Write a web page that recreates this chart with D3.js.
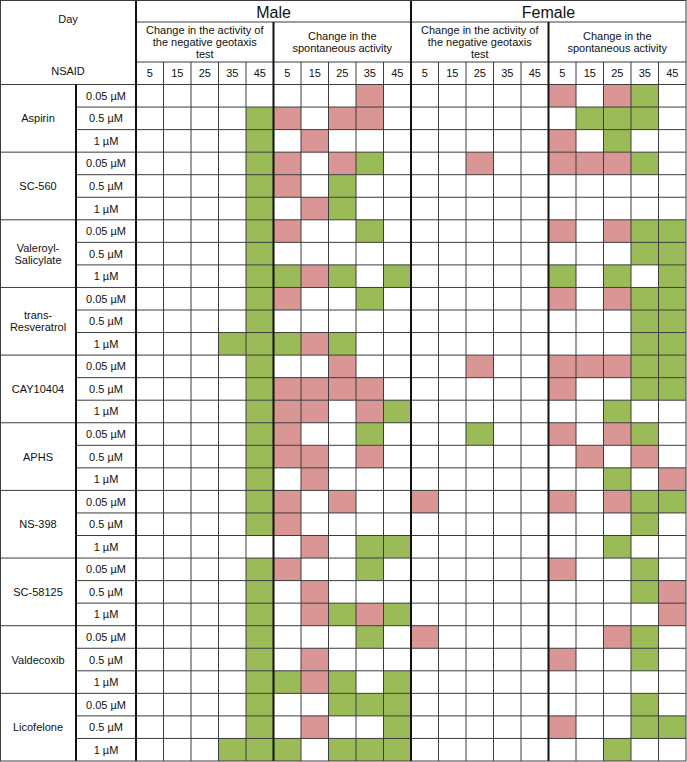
<!DOCTYPE html>
<html>
<head>
<meta charset="utf-8">
<script src="https://cdn.jsdelivr.net/npm/d3@7"></script>
<style>
  html, body { margin: 0; padding: 0; background: #fff; }
  svg { display: block; font-family: "Liberation Sans", Arial, sans-serif; }
</style>
</head>
<body>
<svg id="vis"></svg>
<script>
// ---- data ----
const nsaids = [
  ['Aspirin'], ['SC-560'], ['Valeroyl-', 'Salicylate'], ['trans-', 'Resveratrol'],
  ['CAY10404'], ['APHS'], ['NS-398'], ['SC-58125'], ['Valdecoxib'], ['Licofelone']
];
const concentrations = ['0.05 µM', '0.5 µM', '1 µM'];
const days = [5, 15, 25, 35, 45];
const sexes = ['Male', 'Female'];
const tests = [
  ['Change in the activity of', 'the negative geotaxis', 'test'],
  ['Change in the', 'spontaneous activity']
];
// one string per NSAID/concentration row, one char per day: '-' decrease, '+' increase, '.' no change
const maleGeotaxis = [
  '.....', '....+', '....+',
  '....+', '....+', '....+',
  '....+', '....+', '....+',
  '....+', '....+', '...++',
  '....+', '....+', '....+',
  '....+', '....+', '....+',
  '....+', '....+', '.....',
  '....+', '....+', '....+',
  '....+', '....+', '....+',
  '....+', '....+', '...++'
];
const maleSpontaneous = [
  '...-.', '-.--.', '.-...',
  '-.-+.', '-.+..', '.-+..',
  '-..+.', '.....', '+-+.+',
  '-..+.', '.....', '+-+..',
  '..-..', '----.', '--.-+',
  '-..+.', '--.-.', '.-...',
  '-.-..', '-....', '.-.++',
  '-..+.', '.-...', '.-+-+',
  '...+.', '.-...', '+-+.+',
  '..+++', '.-..+', '+.+++'
];
const femaleGeotaxis = [
  '.....', '.....', '.....',
  '..-..', '.....', '.....',
  '.....', '.....', '.....',
  '.....', '.....', '.....',
  '..-..', '.....', '.....',
  '..+..', '.....', '.....',
  '-....', '.....', '.....',
  '.....', '.....', '.....',
  '-....', '.....', '.....',
  '.....', '.....', '.....'
];
const femaleSpontaneous = [
  '-.-+.', '.+++.', '-.+..',
  '---+.', '.....', '.....',
  '-.-++', '...++', '+.+.+',
  '-.-++', '...++', '...++',
  '---++', '-..++', '..+..',
  '-.-+.', '.-.-.', '..+.-',
  '-.-++', '...+.', '..+..',
  '-..+.', '...+-', '....-',
  '..-+.', '-..+.', '.....',
  '...+.', '-..++', '..+..'
];

// ---- layout ----
const width = 687;
const height = 762;
const nameX = [0, 76];
const concX = [76, 136];
const rowTitle = [0, 22];
const rowTest = [22, 62];
const rowDay = [62, 84.5];
const gridBottom = 761;
const lineColor = '#3c3c3c';
const colorScale = d3.scaleOrdinal().domain(['-', '+']).range(['#d99694', '#9bbb59']);

const blocks = [
  {sex: 'Male', test: 0, values: maleGeotaxis},
  {sex: 'Male', test: 1, values: maleSpontaneous},
  {sex: 'Female', test: 0, values: femaleGeotaxis},
  {sex: 'Female', test: 1, values: femaleSpontaneous}
];
const cols = [];
blocks.forEach((b, bi) => days.forEach((d, di) => cols.push({key: `${bi}-${d}`, block: bi, dayIdx: di, day: d})));
const rows = [];
nsaids.forEach((n, ni) => concentrations.forEach((c, ci) => rows.push({key: `${ni}-${ci}`, nsaid: ni, conc: c, ci})));

const x = d3.scaleBand().domain(cols.map(c => c.key)).range([136, 686]);
const y = d3.scaleBand().domain(rows.map(r => r.key)).range([rowDay[1], gridBottom]);
const bw = x.bandwidth();

const svg = d3.select('#vis').attr('width', width).attr('height', height);
svg.append('rect').attr('width', width).attr('height', height).attr('fill', '#fff');

// ---- cells ----
const cells = [];
rows.forEach((r, ri) => cols.forEach(c => {
  const v = blocks[c.block].values[ri][c.dayIdx];
  if (v !== '.') cells.push({row: r.key, col: c.key, v});
}));
svg.append('g').selectAll('rect').data(cells).join('rect')
  .attr('x', d => x(d.col))
  .attr('y', d => y(d.row))
  .attr('width', bw)
  .attr('height', y.bandwidth())
  .attr('fill', d => colorScale(d.v));

// ---- grid lines ----
const lines = svg.append('g').attr('fill', 'none');
function hline(x1, x2, yy, w) {
  lines.append('line').attr('x1', x1).attr('x2', x2).attr('y1', yy).attr('y2', yy)
    .attr('stroke', lineColor).attr('stroke-width', w || 1);
}
function vline(xx, y1, y2, w, col) {
  lines.append('line').attr('x1', xx).attr('x2', xx).attr('y1', y1).attr('y2', y2)
    .attr('stroke', col || lineColor).attr('stroke-width', w || 1);
}
// horizontal
hline(136, 686, rowTitle[1]);
hline(136, 686, rowTest[1]);
hline(0, 686, rowDay[1]);
rows.forEach((r, ri) => {
  if (ri === 0) return;
  const yy = y(r.key);
  hline(r.ci === 0 ? 0 : nameX[1], 686, yy);
});
// thin vertical between days
cols.forEach(c => {
  if (c.dayIdx === 0) return;
  vline(x(c.key), rowDay[0], gridBottom);
});
// thick vertical
vline(nameX[1], rowDay[1], gridBottom, 2, '#111');
vline(concX[1], 0, gridBottom, 2, '#111');
blocks.forEach((b, bi) => {
  if (bi === 0) return;
  const xx = x(`${bi}-${days[0]}`);
  vline(xx, bi === 2 ? 0 : rowTitle[1], gridBottom, 2, '#111');
});
// outer border
lines.append('rect').attr('x', 0.5).attr('y', 0.5).attr('width', width - 1.5).attr('height', gridBottom - 0.5)
  .attr('stroke', lineColor).attr('stroke-width', 1);

// ---- text ----
const txt = svg.append('g').attr('fill', '#111').attr('text-anchor', 'middle');
// corner
txt.append('text').attr('x', 68).attr('y', 23).attr('font-size', 11).text('Day');
txt.append('text').attr('x', 68).attr('y', 75).attr('font-size', 11).text('NSAID');
// sex titles
sexes.forEach((s, si) => {
  const x0 = x(`${si * 2}-${days[0]}`);
  const x1 = x(`${si * 2 + 1}-${days[4]}`) + bw;
  txt.append('text').attr('x', (x0 + x1) / 2).attr('y', 17.5).attr('font-size', 16).text(s);
});
// test subtitles
blocks.forEach((b, bi) => {
  const x0 = x(`${bi}-${days[0]}`);
  const cx = x0 + bw * days.length / 2;
  const linesTxt = tests[b.test];
  const mid = (rowTest[0] + rowTest[1]) / 2;
  const t = txt.append('text').attr('font-size', 11);
  linesTxt.forEach((l, li) => {
    t.append('tspan').attr('x', cx).attr('y', mid - (linesTxt.length - 1) * 6 + 4 + li * 12).text(l);
  });
});
// day labels
txt.selectAll('text.day').data(cols).join('text')
  .attr('class', 'day')
  .attr('x', d => x(d.key) + bw / 2)
  .attr('y', 77)
  .attr('font-size', 11)
  .text(d => d.day);
// concentrations
txt.selectAll('text.conc').data(rows).join('text')
  .attr('class', 'conc')
  .attr('x', (concX[0] + concX[1]) / 2)
  .attr('y', d => y(d.key) + y.bandwidth() / 2 + 4)
  .attr('font-size', 11)
  .text(d => d.conc);
// NSAID names
nsaids.forEach((n, ni) => {
  const top = y(`${ni}-0`);
  const bottom = y(`${ni}-2`) + y.bandwidth();
  const mid = (top + bottom) / 2;
  const t = txt.append('text').attr('font-size', 11);
  n.forEach((l, li) => {
    t.append('tspan').attr('x', (nameX[0] + nameX[1]) / 2)
      .attr('y', mid - (n.length - 1) * 6 + 4 + li * 12).text(l);
  });
});
</script>
</body>
</html>
